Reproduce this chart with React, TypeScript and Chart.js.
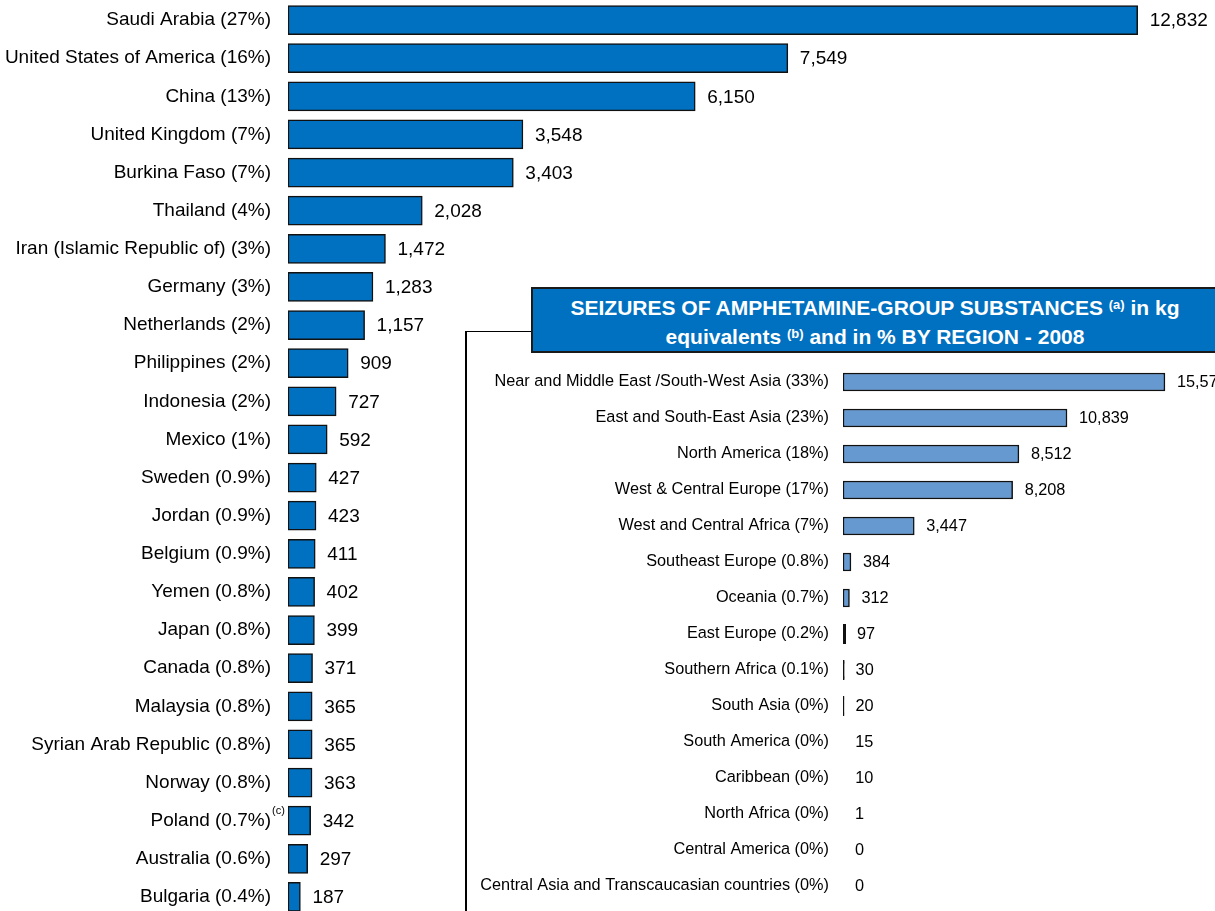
import React, { useEffect, useRef } from "react";
import { Chart, registerables } from "chart.js";

Chart.register(...registerables);

const FONT = "'Liberation Sans', Arial, Helvetica, sans-serif";

const countries = [
  "Saudi Arabia (27%)",
  "United States of America (16%)",
  "China (13%)",
  "United Kingdom (7%)",
  "Burkina Faso (7%)",
  "Thailand (4%)",
  "Iran (Islamic Republic of) (3%)",
  "Germany (3%)",
  "Netherlands (2%)",
  "Philippines (2%)",
  "Indonesia (2%)",
  "Mexico (1%)",
  "Sweden (0.9%)",
  "Jordan (0.9%)",
  "Belgium (0.9%)",
  "Yemen (0.8%)",
  "Japan (0.8%)",
  "Canada (0.8%)",
  "Malaysia (0.8%)",
  "Syrian Arab Republic (0.8%)",
  "Norway (0.8%)",
  "Poland (0.7%)",
  "Australia (0.6%)",
  "Bulgaria (0.4%)",
];
const countryValues = [
  12832, 7549, 6150, 3548, 3403, 2028, 1472, 1283, 1157, 909, 727, 592, 427,
  423, 411, 402, 399, 371, 365, 365, 363, 342, 297, 187,
];
const countryNotes = [
  "", "", "", "", "", "", "", "", "", "", "", "", "", "", "", "", "", "", "",
  "", "", "(c)", "", "",
];

const regions = [
  "Near and Middle East /South-West Asia (33%)",
  "East and South-East Asia (23%)",
  "North America (18%)",
  "West & Central Europe (17%)",
  "West and Central Africa (7%)",
  "Southeast Europe (0.8%)",
  "Oceania (0.7%)",
  "East Europe (0.2%)",
  "Southern Africa (0.1%)",
  "South Asia (0%)",
  "South America (0%)",
  "Caribbean (0%)",
  "North Africa (0%)",
  "Central America (0%)",
  "Central Asia and Transcaucasian countries (0%)",
];
const regionValues = [15578, 10839, 8512, 8208, 3447, 384, 312, 97, 30, 20, 15, 10, 1, 0, 0];

const fmt = (v: number) => v.toLocaleString("en-US");

function valueLabelPlugin(fontSize: number, offset: number) {
  return {
    id: "valueLabels",
    afterDatasetsDraw(chart: any) {
      const ctx = chart.ctx;
      const meta = chart.getDatasetMeta(0);
      const data = chart.data.datasets[0].data as number[];
      ctx.save();
      ctx.font = `${fontSize}px ${FONT}`;
      ctx.fillStyle = "#000";
      ctx.textAlign = "left";
      ctx.textBaseline = "middle";
      meta.data.forEach((el: any, i: number) => {
        ctx.fillText(fmt(data[i]), el.x + offset, el.y + 1);
      });
      ctx.restore();
    },
  };
}

const notePlugin = {
  id: "notes",
  afterDraw(chart: any) {
    const ctx = chart.ctx;
    const yScale = chart.scales.y;
    ctx.save();
    ctx.font = `11px ${FONT}`;
    ctx.fillStyle = "#000";
    ctx.textAlign = "left";
    ctx.textBaseline = "middle";
    countryNotes.forEach((n, i) => {
      if (!n) return;
      const y = yScale.getPixelForValue(i);
      ctx.fillText(n, yScale.right - 16, y - 10);
    });
    ctx.restore();
  },
};

const noPad = (width: number) => (scale: any) => {
  scale.width = width;
  scale.paddingTop = 0;
  scale.paddingBottom = 0;
};

const rawOf = (c: any) => (c && typeof c.raw === "number" ? c.raw : 0);

export default function App() {
  const mainRef = useRef<HTMLCanvasElement | null>(null);
  const insetRef = useRef<HTMLCanvasElement | null>(null);

  useEffect(() => {
    const main = new Chart(mainRef.current as HTMLCanvasElement, {
      type: "bar",
      data: {
        labels: countries,
        datasets: [
          {
            data: countryValues,
            backgroundColor: "#0070C0",
            borderColor: "#111111",
            borderWidth: 1.5,
            borderSkipped: false,
            barThickness: 29,
          },
        ],
      },
      options: {
        indexAxis: "y",
        animation: false,
        responsive: false,
        maintainAspectRatio: false,
        layout: { padding: { top: 1, bottom: 1, left: 0, right: 0 } },
        plugins: { legend: { display: false }, tooltip: { enabled: false }, title: { display: false } },
        scales: {
          x: { display: false, min: 0, max: 14000 },
          y: {
            afterFit: noPad(288),
            grid: { display: false, drawTicks: false },
            border: { display: false },
            ticks: {
              autoSkip: false,
              padding: 17,
              color: "#000",
              font: { family: FONT, size: 19 },
            },
          },
        },
      },
      plugins: [valueLabelPlugin(19, 12), notePlugin],
    });

    const inset = new Chart(insetRef.current as HTMLCanvasElement, {
      type: "bar",
      data: {
        labels: regions,
        datasets: [
          {
            data: regionValues,
            backgroundColor: (c: any) =>
              rawOf(c) < 18 ? "rgba(0,0,0,0)" : rawOf(c) < 150 ? "#111111" : "#6699D0",
            borderColor: (c: any) => (rawOf(c) < 18 ? "rgba(0,0,0,0)" : "#111111"),
            borderWidth: (c: any) => (rawOf(c) < 18 ? 0 : 1.5),
            borderSkipped: false,
            barThickness: 18,
            inflateAmount: (c: any) => (rawOf(c) < 18 ? 0 : rawOf(c) < 150 ? 1 : 0.33),
          } as any,
        ],
      },
      options: {
        indexAxis: "y",
        animation: false,
        responsive: false,
        maintainAspectRatio: false,
        layout: { padding: { top: 8, bottom: 7, left: 0, right: 0 } },
        plugins: { legend: { display: false }, tooltip: { enabled: false }, title: { display: false } },
        scales: {
          x: { display: false, min: 0, max: 18000 },
          y: {
            afterFit: noPad(373),
            grid: { display: false, drawTicks: false },
            border: { display: false },
            ticks: {
              autoSkip: false,
              padding: 14,
              color: "#000",
              font: { family: FONT, size: 16.3 },
            },
          },
        },
      },
      plugins: [valueLabelPlugin(16.3, 12)],
    });

    return () => {
      main.destroy();
      inset.destroy();
    };
  }, []);

  const supStyle: React.CSSProperties = { fontSize: 13, verticalAlign: "6px", lineHeight: 0 };

  return (
    <div
      style={{
        position: "fixed",
        left: 0,
        top: 0,
        width: 1215,
        height: 911,
        overflow: "hidden",
        background: "#fff",
        fontFamily: FONT,
      }}
    >
      <canvas
        ref={mainRef}
        width={1215}
        height={917}
        style={{ position: "absolute", left: 0, top: 0, width: 1215, height: 917 }}
      />
      <div
        style={{
          position: "absolute",
          left: 465,
          top: 331,
          width: 800,
          height: 700,
          borderLeft: "2px solid #000",
          borderTop: "1.5px solid #000",
          boxSizing: "border-box",
        }}
      />
      <canvas
        ref={insetRef}
        width={745}
        height={555}
        style={{ position: "absolute", left: 470, top: 356, width: 745, height: 555 }}
      />
      <div
        style={{
          position: "absolute",
          left: 531,
          top: 287,
          width: 688,
          height: 66,
          boxSizing: "border-box",
          background: "#0070C0",
          border: "2px solid #1a1a1a",
          color: "#fff",
          fontWeight: "bold",
          fontSize: 21,
          lineHeight: "29px",
          textAlign: "center",
          paddingTop: 4,
          letterSpacing: 0,
        }}
      >
        SEIZURES OF AMPHETAMINE-GROUP SUBSTANCES <sup style={supStyle}>(a)</sup> in kg
        <br />
        equivalents <sup style={supStyle}>(b)</sup> and in % BY REGION - 2008
      </div>
    </div>
  );
}
